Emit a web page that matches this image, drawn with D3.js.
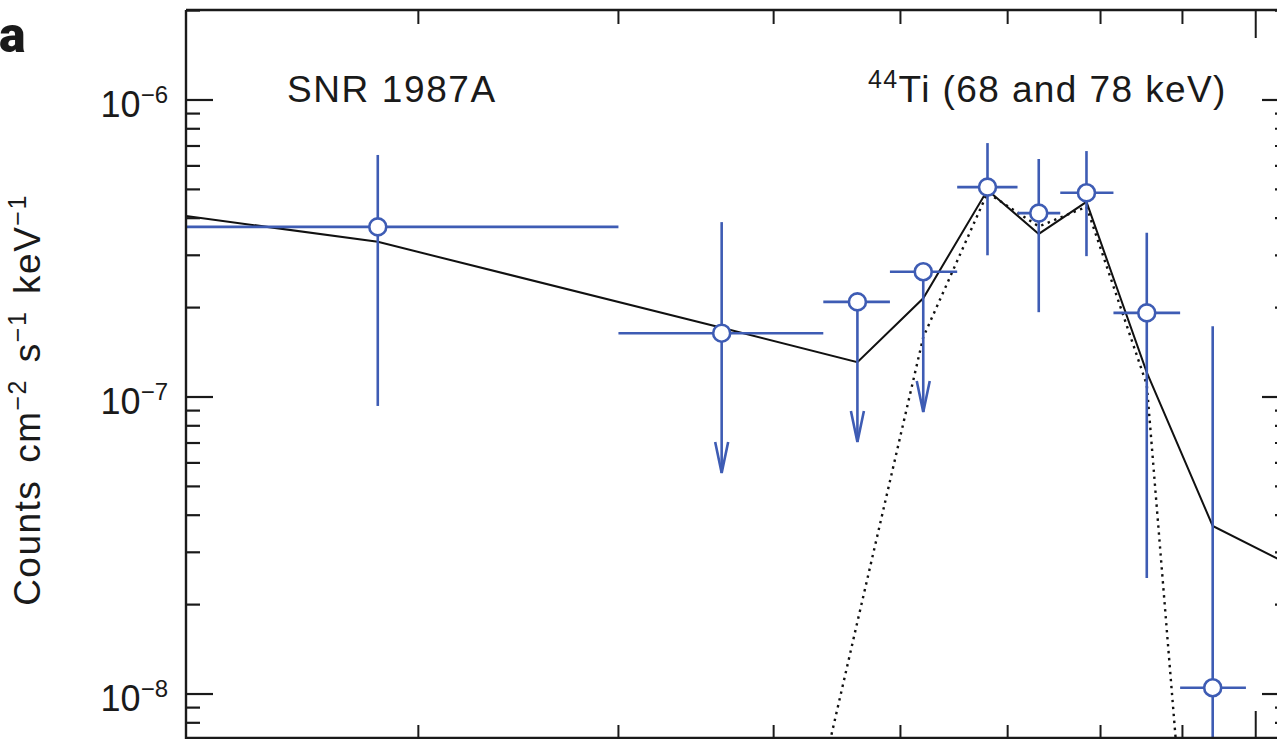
<!DOCTYPE html>
<html>
<head>
<meta charset="utf-8">
<script src="https://cdn.jsdelivr.net/npm/d3@7"></script>
<style>
  html, body { margin: 0; padding: 0; background: #fff; }
  svg { display: block; }
  text { font-family: "Liberation Sans", Arial, Helvetica, sans-serif; fill: #1a1a1a; }
</style>
</head>
<body>
<svg id="chart" width="1277" height="739"></svg>
<script>
// ---------- data ----------
// energy bins (keV)
const binLo  = [20.0, 40.0, 53.7, 59.1, 65.1, 71.0, 75.5, 81.5, 89.7];
const binHi  = [40.0, 53.7, 59.1, 65.1, 71.0, 75.5, 81.5, 89.7, 98.6];
const energy = [28.3, 46.4, 56.4, 62.0, 68.0, 73.2, 78.4, 85.5, 94.0];
// measured flux (counts cm^-2 s^-1 keV^-1)
const flux   = [3.74e-7, 1.64e-7, 2.09e-7, 2.64e-7, 5.09e-7, 4.16e-7, 4.87e-7, 1.92e-7, 1.05e-8];
const errTop = [6.53e-7, 3.88e-7, null,    null,    7.16e-7, 6.33e-7, 6.73e-7, 3.57e-7, 1.73e-7];
const errBot = [9.33e-8, 5.55e-8, 7.06e-8, 8.90e-8, 3.00e-7, 1.93e-7, 2.98e-7, 2.46e-8, 1.0e-9];
const upperLimit = [false, true, true, true, false, false, false, false, false];

// total model (solid line)
const modelE    = [21.48, 28.3, 46.4, 56.4, 62.0, 68.0, 73.2, 78.4, 85.5, 94.0, 104.9];
const modelFlux = [4.07e-7, 3.33e-7, 1.71e-7, 1.31e-7, 2.15e-7, 4.98e-7, 3.54e-7, 4.54e-7, 1.21e-7, 3.68e-8, 2.73e-8];
// 44Ti line model (dotted)
const lineE    = [46.4, 56.4, 62.0, 68.0, 73.2, 78.4, 85.5, 94.0];
const lineFlux = [1.8e-10, 1.75e-8, 1.59e-7, 4.87e-7, 3.75e-7, 4.37e-7, 1.10e-7, 2.1e-10];

// ticks
const xMinorTicks = [30, 40, 50, 60, 70, 80, 90];
const xMajorTicks = [100];
const yMajorTicks = [1e-6, 1e-7, 1e-8];
const yMajorExp   = ["−6", "−7", "−8"];

// ---------- layout ----------
const L = 186, R = 1289, T = 10, B = 739;
const blue = "#3e5cb4";

const svg = d3.select("#chart");

const x = d3.scaleLog().domain([21.48, 104.9]).range([L, R]);
const y = d3.scaleLog().domain([7.056e-9, 2.009e-6]).range([B, T]);

// minor y ticks
const yMinorTicks = [];
for (let e = -9; e <= -6; e++) {
  for (let k = 2; k <= 9; k++) {
    const v = k * Math.pow(10, e);
    if (v > y.domain()[0] && v < y.domain()[1]) yMinorTicks.push(v);
  }
}

svg.append("defs").append("clipPath").attr("id", "plotclip")
  .append("rect").attr("x", L).attr("y", T).attr("width", R - L).attr("height", B - T);

const plot = svg.append("g").attr("clip-path", "url(#plotclip)");

// ---------- model lines ----------
const lineGen = d3.line().x(d => x(d[0])).y(d => y(d[1]));
plot.append("path")
  .datum(lineE.map((e, i) => [e, lineFlux[i]]))
  .attr("d", lineGen)
  .attr("fill", "none").attr("stroke", "#111").attr("stroke-width", 2.4)
  .attr("stroke-dasharray", "2.4,4.6");

plot.append("path")
  .datum(modelE.map((e, i) => [e, modelFlux[i]]))
  .attr("d", lineGen)
  .attr("fill", "none").attr("stroke", "#111").attr("stroke-width", 2)
  .attr("stroke-linejoin", "miter");

// ---------- data points ----------
const pts = energy.map((e, i) => ({
  e, f: flux[i], lo: binLo[i], hi: binHi[i], top: errTop[i], bot: errBot[i], ul: upperLimit[i]
}));

const gp = plot.append("g").attr("stroke", blue).attr("stroke-width", 2.6).attr("fill", "none");
pts.forEach(p => {
  gp.append("line").attr("x1", x(p.lo)).attr("x2", x(p.hi)).attr("y1", y(p.f)).attr("y2", y(p.f));
  const yTop = p.top != null ? y(p.top) : y(p.f);
  gp.append("line").attr("x1", x(p.e)).attr("x2", x(p.e)).attr("y1", yTop).attr("y2", y(p.bot));
  if (p.ul) {
    const tx = x(p.e), ty = y(p.bot);
    gp.append("path").attr("d", `M${tx - 6.5},${ty - 31} L${tx},${ty} L${tx + 6.5},${ty - 31}`)
      .attr("stroke-linejoin", "miter");
  }
});
plot.append("g").selectAll("circle").data(pts).join("circle")
  .attr("cx", d => x(d.e)).attr("cy", d => y(d.f)).attr("r", 8.5)
  .attr("fill", "#fff").attr("stroke", blue).attr("stroke-width", 2.6);

// ---------- frame & ticks ----------
const axes = svg.append("g").attr("stroke", "#1a1a1a").attr("stroke-width", 2.4);
axes.append("line").attr("x1", L).attr("x2", R).attr("y1", T).attr("y2", T);
axes.append("line").attr("x1", L).attr("x2", R).attr("y1", B - 1).attr("y2", B - 1);
axes.append("line").attr("x1", L).attr("x2", L).attr("y1", T).attr("y2", B);
axes.append("line").attr("x1", R).attr("x2", R).attr("y1", T).attr("y2", B);

const xt = axes.append("g").attr("stroke-width", 2);
xMinorTicks.forEach(v => {
  xt.append("line").attr("x1", x(v)).attr("x2", x(v)).attr("y1", T).attr("y2", T + 14);
  xt.append("line").attr("x1", x(v)).attr("x2", x(v)).attr("y1", B).attr("y2", B - 14);
});
xMajorTicks.forEach(v => {
  xt.append("line").attr("x1", x(v)).attr("x2", x(v)).attr("y1", T).attr("y2", T + 28);
  xt.append("line").attr("x1", x(v)).attr("x2", x(v)).attr("y1", B).attr("y2", B - 28);
});
const yt = axes.append("g").attr("stroke-width", 2.2);
yMinorTicks.forEach(v => {
  yt.append("line").attr("x1", L).attr("x2", L + 14).attr("y1", y(v)).attr("y2", y(v));
  yt.append("line").attr("x1", R).attr("x2", R - 14).attr("y1", y(v)).attr("y2", y(v));
});
yMajorTicks.forEach(v => {
  yt.append("line").attr("x1", L).attr("x2", L + 27).attr("y1", y(v)).attr("y2", y(v));
  yt.append("line").attr("x1", R).attr("x2", R - 27).attr("y1", y(v)).attr("y2", y(v));
});

// y tick labels
yMajorTicks.forEach((v, i) => {
  const t = svg.append("text").attr("x", 168).attr("y", y(v) + 17)
    .attr("text-anchor", "end").attr("font-size", 36);
  t.append("tspan").text("10");
  t.append("tspan").attr("font-size", 24).attr("dy", -14).text(yMajorExp[i]);
});

// y axis label
const yl = svg.append("text")
  .attr("transform", "translate(40,400) rotate(-90)")
  .attr("text-anchor", "middle").attr("font-size", 37)
  .attr("letter-spacing", 1.5).attr("word-spacing", 5);
yl.append("tspan").text("Counts cm");
yl.append("tspan").attr("font-size", 25).attr("dy", -14).text("−2");
yl.append("tspan").attr("dy", 14).text(" s");
yl.append("tspan").attr("font-size", 25).attr("dy", -14).text("−1");
yl.append("tspan").attr("dy", 14).text(" keV");
yl.append("tspan").attr("font-size", 25).attr("dy", -14).text("−1");

// annotations
svg.append("text").attr("x", 287).attr("y", 102).attr("font-size", 37)
  .attr("letter-spacing", 1.6).text("SNR 1987A");
const ti = svg.append("text").attr("x", 868).attr("y", 102).attr("font-size", 37)
  .attr("letter-spacing", 1.4);
ti.append("tspan").attr("font-size", 25).attr("dy", -14).text("44");
ti.append("tspan").attr("dy", 14).text("Ti (68 and 78 keV)");

// panel label
svg.append("text").attr("x", -1).attr("y", 52).attr("font-size", 50)
  .style("font-family", "Roboto, 'Liberation Sans', Arial, sans-serif")
  .attr("font-weight", 900).text("a");
</script>
</body>
</html>
